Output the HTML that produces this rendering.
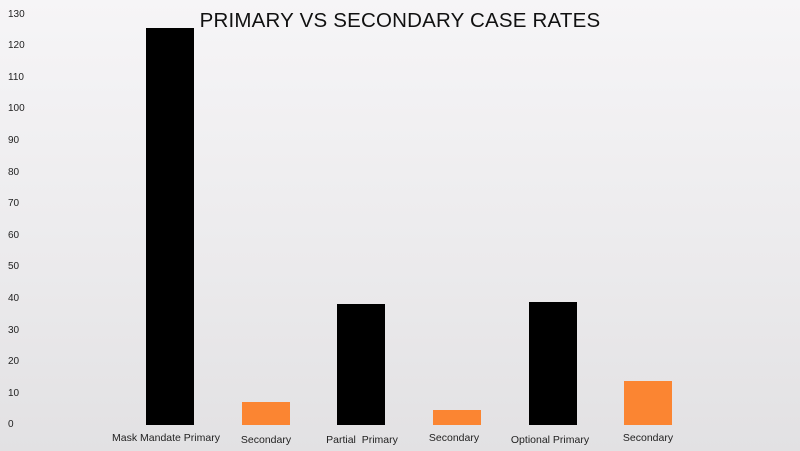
<!DOCTYPE html>
<html><head><style>
body{margin:0;width:800px;height:451px;overflow:hidden;background:linear-gradient(180deg,#f6f5f7 0%,#ebeaec 60%,#e2e1e3 100%);font-family:"Liberation Sans",sans-serif;position:relative}
.y{position:absolute;left:8px;font-size:10px;color:#222;width:20px;text-align:left}
.b{position:absolute;width:48px;bottom:26px}
.k{background:#000}
.o{background:#fb8532}
.l{position:absolute;top:432px;font-size:10.5px;color:#222;text-align:center;width:140px}
h1{position:absolute;left:0;width:800px;top:9px;margin:0;text-align:center;font-weight:normal;font-size:20.5px;color:#111;letter-spacing:0.2px}
</style></head><body>
<h1>PRIMARY VS SECONDARY CASE RATES</h1>
<div class="y" style="top:9px">130</div>
<div class="y" style="top:40px">120</div>
<div class="y" style="top:72px">110</div>
<div class="y" style="top:103px">100</div>
<div class="y" style="top:135px">90</div>
<div class="y" style="top:167px">80</div>
<div class="y" style="top:198px">70</div>
<div class="y" style="top:230px">60</div>
<div class="y" style="top:261px">50</div>
<div class="y" style="top:293px">40</div>
<div class="y" style="top:325px">30</div>
<div class="y" style="top:356px">20</div>
<div class="y" style="top:388px">10</div>
<div class="y" style="top:419px">0</div>
<div class="b k" style="left:146px;top:28px"></div>
<div class="b o" style="left:242px;top:402px"></div>
<div class="b k" style="left:337px;top:304px"></div>
<div class="b o" style="left:433px;top:410px"></div>
<div class="b k" style="left:529px;top:302px"></div>
<div class="b o" style="left:624px;top:381px"></div>
<div class="l" style="left:96px">Mask Mandate Primary</div>
<div class="l" style="left:196px;top:434px">Secondary</div>
<div class="l" style="left:292px;top:434px">Partial&nbsp; Primary</div>
<div class="l" style="left:384px">Secondary</div>
<div class="l" style="left:480px;top:434px">Optional Primary</div>
<div class="l" style="left:578px">Secondary</div>
</body></html>
